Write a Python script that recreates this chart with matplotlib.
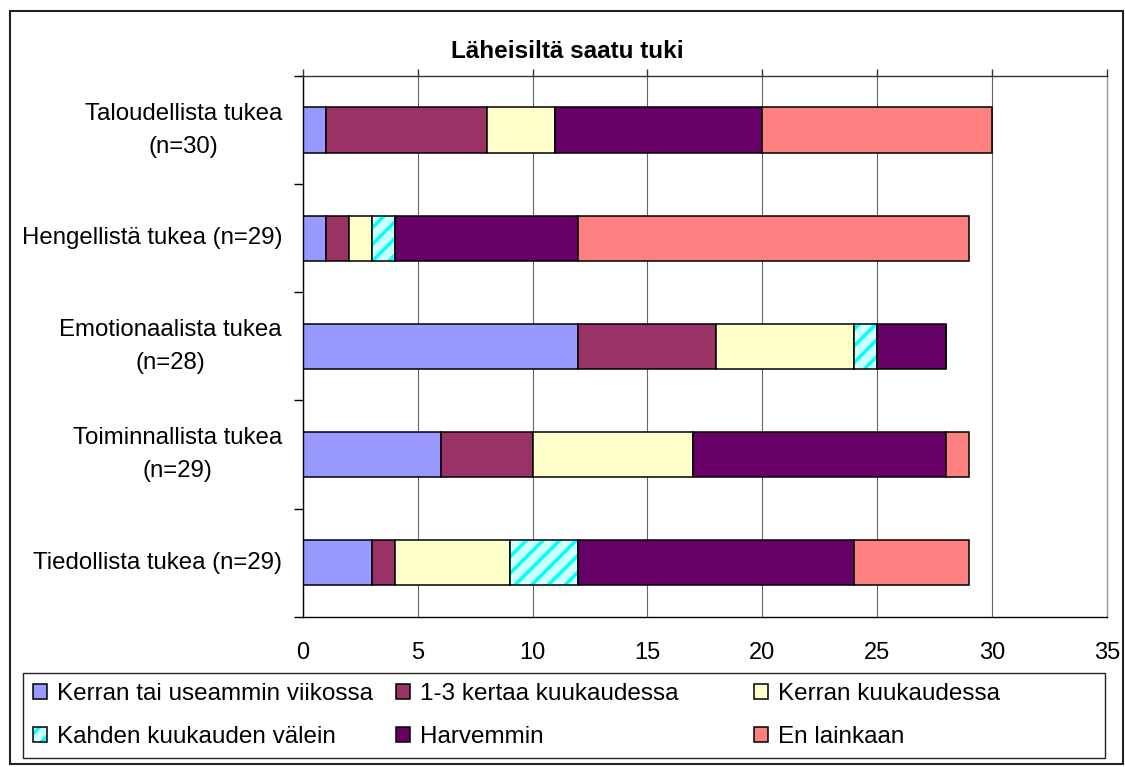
import matplotlib
matplotlib.use("Agg")
import matplotlib.pyplot as plt
from matplotlib.patches import Rectangle
from matplotlib.legend_handler import HandlerTuple
import numpy as np

plt.rcParams['font.family'] = ['Liberation Sans', 'DejaVu Sans']
plt.rcParams['hatch.linewidth'] = 2.5

# ---- data ----
categories = ["Taloudellista tukea\n(n=30)",
              "Hengellistä tukea (n=29)",
              "Emotionaalista tukea\n(n=28)",
              "Toiminnallista tukea\n(n=29)",
              "Tiedollista tukea (n=29)"]
series_names = ["Kerran tai useammin viikossa",
                "1-3 kertaa kuukaudessa",
                "Kerran kuukaudessa",
                "Kahden kuukauden välein",
                "Harvemmin",
                "En lainkaan"]
kerran_viikossa = [1, 1, 12, 6, 3]
kertaa_1_3 = [7, 1, 6, 4, 1]
kerran_kuukaudessa = [3, 1, 6, 7, 5]
kahden_kuukauden = [0, 1, 1, 0, 3]
harvemmin = [9, 8, 3, 11, 12]
en_lainkaan = [10, 17, 0, 1, 5]
x_ticks = [0, 5, 10, 15, 20, 25, 30, 35]
title = "Läheisiltä saatu tuki"

series = [kerran_viikossa, kertaa_1_3, kerran_kuukaudessa,
          kahden_kuukauden, harvemmin, en_lainkaan]
colors = ["#9999FF", "#993366", "#FFFFCC", "#CCFFFF", "#660066", "#FF8080"]

W, H = 1125, 767
fig = plt.figure(figsize=(W / 100, H / 100), dpi=100)

ax = fig.add_axes([302.7 / W, 1 - 616.7 / H, (1107 - 302.7) / W, (616.7 - 76) / H])
ax.set_axisbelow(True)

y = np.arange(len(categories))
left = np.zeros(len(categories))
handles = []
for i, (vals, col) in enumerate(zip(series, colors)):
    vals = np.array(vals, dtype=float)
    if i == 3:
        hb = ax.barh(y, vals, left=left, height=0.42, color=col,
                     edgecolor="#00FFFF", hatch="//", linewidth=0)
        eb = ax.barh(y, vals, left=left, height=0.42, facecolor="none",
                     edgecolor="black", linewidth=1.1)
        handles.append((hb[0], eb[0]))
    else:
        b = ax.barh(y, vals, left=left, height=0.42, color=col,
                    edgecolor="black", linewidth=1.1)
        handles.append(b[0])
    left += vals

ax.set_xlim(0, 35)
ax.set_ylim(len(categories) - 0.5, -0.5)
ax.set_xticks(x_ticks)
ax.set_xticklabels([str(t) for t in x_ticks], fontsize=17)
ax.tick_params(axis='x', which='major', top=True, bottom=False,
               labeltop=False, labelbottom=True, direction='out',
               length=5, width=1, color="#333333", pad=13.5)
ax.grid(axis='x', color="#666666", linewidth=0.8)

ax.set_yticks(y)
ax.set_yticklabels(categories, fontsize=17.3, linespacing=1.65,
                   multialignment='center', va='center')
ax.set_yticks(np.arange(len(categories) + 1) - 0.5, minor=True)
ax.tick_params(axis='y', which='major', length=0, pad=14.9)
ax.tick_params(axis='y', which='minor', length=6.5, width=1, color='black',
               direction='out')

ax.spines['left'].set_color('black')
ax.spines['bottom'].set_color('black')
ax.spines['top'].set_color('#333333')
ax.spines['right'].set_color('#999999')
for s in ax.spines.values():
    s.set_linewidth(1.0)

fig.text(567.5 / W, 1 - 57.7 / H, title, ha='center', va='baseline',
         fontsize=17.5, fontweight='bold')

# figure border
fig.patches.append(Rectangle((10 / W, 1 - 764 / H), (1123 - 10) / W, (764 - 11) / H,
                             transform=fig.transFigure, fill=False,
                             edgecolor='#222222', linewidth=1.5))
# legend frame
fig.patches.append(Rectangle((22.7 / W, 1 - 757.7 / H), (1105.4 - 22.7) / W,
                             (757.7 - 672.7) / H, transform=fig.transFigure,
                             fill=False, edgecolor='#222222', linewidth=1.0))

col_x = [33, 396, 754]
order = [(0, 3), (1, 4), (2, 5)]
for cx, (a, b) in zip(col_x, order):
    leg = fig.legend([handles[a], handles[b]], [series_names[a], series_names[b]],
                     loc='center left', bbox_to_anchor=(cx / W, 1 - 715.5 / H),
                     frameon=False, fontsize=17.5, borderpad=0, borderaxespad=0,
                     handlelength=0.58, handleheight=0.55, handletextpad=0.4,
                     labelspacing=0.85,
                     handler_map={tuple: HandlerTuple(ndivide=1, pad=0)})

fig.savefig("out.png", dpi=100)
